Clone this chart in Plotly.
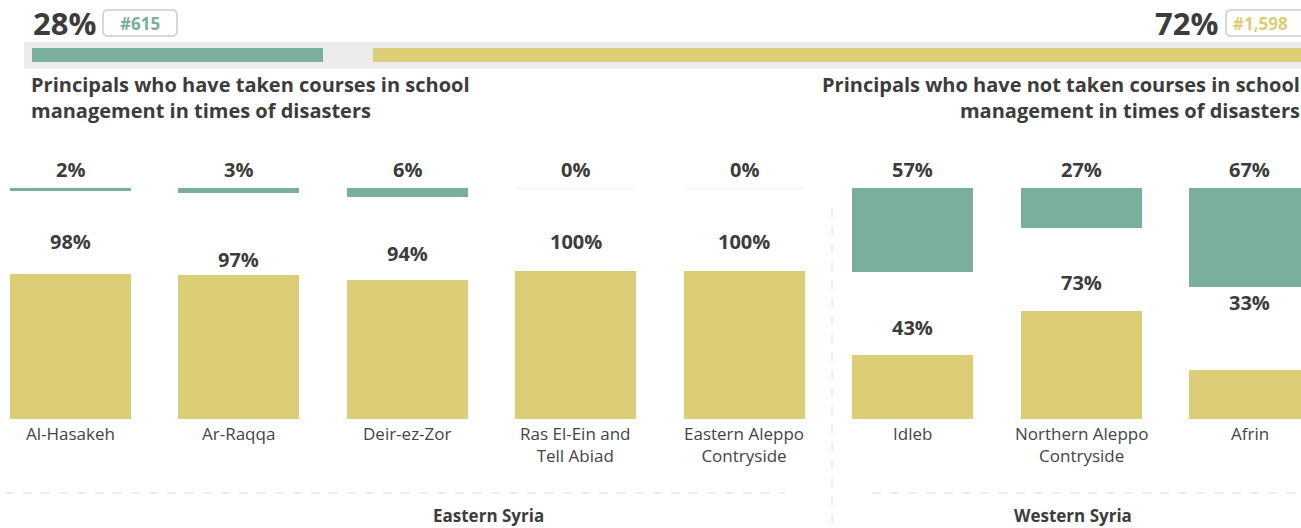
import plotly.graph_objects as go

# ---- data -------------------------------------------------------------
regions = ["Al-Hasakeh", "Ar-Raqqa", "Deir-ez-Zor", "Ras El-Ein and<br>Tell Abiad",
           "Eastern Aleppo<br>Contryside", "Idleb", "Northern Aleppo<br>Contryside", "Afrin"]
taken_pct = [2, 3, 6, 0, 0, 57, 27, 67]          # have taken courses (green)
not_taken_pct = [98, 97, 94, 100, 100, 43, 73, 33]  # have not taken courses (yellow)
total_taken_share = 28
total_not_taken_share = 72
total_taken_count = "#615"
total_not_taken_count = "#1,598"
zone_names = ["Eastern Syria", "Western Syria"]

# ---- styling / layout helpers ----------------------------------------
W, H = 1301, 528
GREEN = "#7ab09b"
YELLOW = "#dbce76"
TEXT = "#3c3c3c"
FONT = "Open Sans"

TOP = 156                       # y value the green bars hang down from
X0, X1 = -0.4186, 7.3057        # x range so the category grid fills the width
Y0, Y1 = -73.65, 283.11         # y range so the bars sit in the page area
BAR_W = 0.718
# lift of each yellow value label above its bar (in y units)
yes_label_lift = [22, 11, 17.5, 20, 20, 18.5, 19, 46]


def py(px):
    """pixel row -> paper y"""
    return 1 - px / H


def pxx(px):
    """pixel column -> paper x"""
    return px / W


xs = list(range(len(regions)))

fig = go.Figure()

# yellow bars rise from zero
fig.add_trace(go.Bar(x=xs, y=not_taken_pct, width=BAR_W, marker_color=YELLOW,
                     marker_line_width=0, hoverinfo="skip", showlegend=False))
# green bars hang down from the top line
fig.add_trace(go.Bar(x=xs, y=[-v for v in taken_pct], base=TOP, width=BAR_W,
                     marker_color=GREEN, marker_line_width=0,
                     hoverinfo="skip", showlegend=False))

# summary bar: green and yellow segments on their own axes
fig.add_trace(go.Bar(x=[total_taken_share], y=[0], orientation="h", width=1,
                     marker_color=GREEN, marker_line_width=0, hoverinfo="skip",
                     showlegend=False, xaxis="x2", yaxis="y2"))
fig.add_trace(go.Bar(x=[total_not_taken_share], y=[0], orientation="h", width=1,
                     marker_color=YELLOW, marker_line_width=0, hoverinfo="skip",
                     showlegend=False, xaxis="x3", yaxis="y3"))

shapes = []
annotations = []


def label(x, y, text, size, color=TEXT, bold=True, xref="paper", yref="paper",
          xanchor="center", yanchor="middle", align="center"):
    return dict(x=x, y=y, xref=xref, yref=yref, text=text, showarrow=False,
                xanchor=xanchor, yanchor=yanchor, align=align,
                font=dict(family=FONT, size=size, color=color,
                          weight="bold" if bold else "normal"))


# faint top line under every green bar
for x in xs:
    shapes.append(dict(type="line", xref="x", yref="y", x0=x - BAR_W / 2, x1=x + BAR_W / 2,
                       y0=TOP, y1=TOP, line=dict(color="#e9f1ee", width=1), layer="below"))

# value labels
for x, g, n, lift in zip(xs, taken_pct, not_taken_pct, yes_label_lift):
    annotations.append(label(x, TOP + 12.9, f"{g}%", 20, xref="x", yref="y"))
    annotations.append(label(x, n + lift, f"{n}%", 20, xref="x", yref="y"))
# category names
for x, name in zip(xs, regions):
    annotations.append(label(x, py(420), name, 17, color="#444444", bold=False,
                             xref="x", yanchor="top"))

# zone separators
dash = dict(color="#dcdcdc", width=1, dash="dash")
shapes += [
    dict(type="line", xref="paper", yref="paper", x0=pxx(5), x1=pxx(785),
         y0=py(493), y1=py(493), line=dash),
    dict(type="line", xref="paper", yref="paper", x0=pxx(872), x1=pxx(1301),
         y0=py(493), y1=py(493), line=dash),
    dict(type="line", xref="paper", yref="paper", x0=pxx(832), x1=pxx(832),
         y0=py(208), y1=py(528), line=dash),
]
annotations += [
    label(pxx(488), py(515), zone_names[0], 17),
    label(pxx(1073), py(515), zone_names[1], 17),
]

# summary track background
shapes.append(dict(type="rect", xref="paper", yref="paper", x0=pxx(24), x1=pxx(1310),
                   y0=py(69), y1=py(42), fillcolor="#ececec", line_width=0, layer="below"))


def rounded_box(x0, y0, x1, y1, r=5):
    return (f"M{x0 + r},{y0} L{x1 - r},{y0} Q{x1},{y0} {x1},{y0 + r} "
            f"L{x1},{y1 - r} Q{x1},{y1} {x1 - r},{y1} L{x0 + r},{y1} "
            f"Q{x0},{y1} {x0},{y1 - r} L{x0},{y0 + r} Q{x0},{y0} {x0 + r},{y0} Z")


# count boxes (drawn in pixel units on a helper axis)
shapes.append(dict(type="path", xref="x4", yref="y4", path=rounded_box(103, 10, 177, 36),
                   line=dict(color="#cccccc", width=1.5), fillcolor="white"))
shapes.append(dict(type="path", xref="x4", yref="y4", path=rounded_box(1226, 10, 1340, 36),
                   line=dict(color="#cccccc", width=1.5), fillcolor="white"))

annotations += [
    label(pxx(31), py(23), f"{total_taken_share}%", 31, xanchor="left"),
    label(pxx(140), py(23), total_taken_count, 17, color=GREEN),
    label(pxx(1220), py(23), f"{total_not_taken_share}%", 31, xanchor="right"),
    label(pxx(1231), py(23), total_not_taken_count, 17, color=YELLOW, xanchor="left"),
    label(pxx(29), py(98),
          "Principals who have taken courses in school<br>management in times of disasters",
          20, xanchor="left", align="left"),
    label(pxx(1302), py(98),
          "Principals who have not taken courses in school<br>management in times of disasters",
          20, xanchor="right", align="right"),
]

hidden = dict(visible=False, showgrid=False, zeroline=False, fixedrange=True)
fig.update_layout(
    width=W, height=H, autosize=False,
    margin=dict(l=0, r=0, t=0, b=0, pad=0),
    paper_bgcolor="white", plot_bgcolor="rgba(0,0,0,0)",
    bargap=0, barmode="overlay",
    xaxis=dict(range=[X0, X1], **hidden),
    yaxis=dict(range=[Y0, Y1], **hidden),
    xaxis2=dict(domain=[pxx(32), pxx(323)], range=[0, total_taken_share], anchor="y2", **hidden),
    yaxis2=dict(domain=[py(62), py(48)], range=[-0.5, 0.5], anchor="x2", **hidden),
    xaxis3=dict(domain=[pxx(373), 1], range=[0, total_not_taken_share], anchor="y3", **hidden),
    yaxis3=dict(domain=[py(62), py(48)], range=[-0.5, 0.5], anchor="x3", **hidden),
    xaxis4=dict(domain=[0, 1], range=[0, W], anchor="y4", **hidden),
    yaxis4=dict(domain=[0, 1], range=[H, 0], anchor="x4", **hidden),
    shapes=shapes, annotations=annotations,
)

fig.write_html("out.html", config={"displayModeBar": False, "staticPlot": True})
